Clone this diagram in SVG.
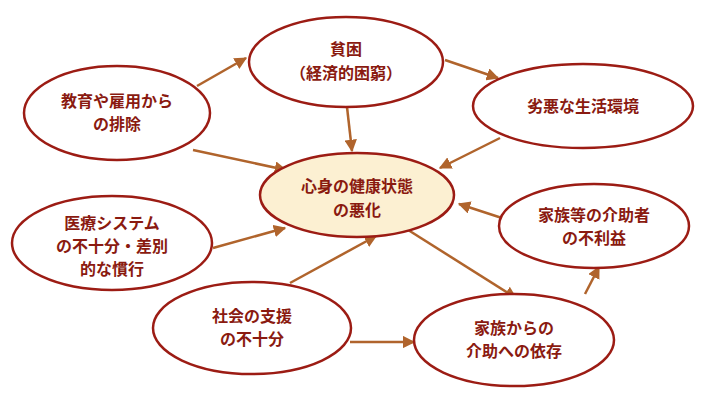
<svg xmlns="http://www.w3.org/2000/svg" width="720" height="406" viewBox="0 0 720 406">
<style>
.n{fill:#fff;stroke:#9c1c14;stroke-width:2.5}
.c{fill:#fcf0d2}
text{font-family:"Noto Sans CJK JP","Noto Sans CJK SC",sans-serif;font-size:16px;font-weight:bold;fill:#8a1a10;text-anchor:middle}
.e line{stroke:#b0642c;stroke-width:2.5;marker-end:url(#a)}
</style>
<defs><marker id="a" viewBox="0 0 10 10" refX="9" refY="5" markerWidth="5" markerHeight="5" orient="auto" markerUnits="strokeWidth"><path d="M0,0L10,5L0,10z" fill="#b0642c"/></marker></defs>
<rect width="720" height="406" fill="#fff"/>
<g class="e">
<line x1="197" y1="86" x2="246" y2="58"/>
<line x1="445" y1="60" x2="498" y2="78"/>
<line x1="347" y1="107" x2="352" y2="151"/>
<line x1="193" y1="150" x2="286" y2="170"/>
<line x1="500" y1="138" x2="440" y2="168"/>
<line x1="213" y1="248" x2="285" y2="228"/>
<line x1="290" y1="283" x2="376" y2="236"/>
<line x1="405" y1="228" x2="516" y2="298"/>
<line x1="505" y1="219" x2="459" y2="204"/>
<line x1="350" y1="342" x2="414" y2="342"/>
<line x1="585" y1="294" x2="599" y2="267"/>
</g>
<g id="n1"><ellipse class="n" cx="346" cy="62" rx="97" ry="45"/><text x="346" y="55">貧困</text><text x="346" y="79">（経済的困窮）</text></g>
<g id="n2"><ellipse class="n" cx="583" cy="106" rx="110" ry="42"/><text x="583" y="112">劣悪な生活環境</text></g>
<g id="n3"><ellipse class="n" cx="117" cy="113" rx="93" ry="47"/><text x="117" y="107">教育や雇用から</text><text x="117" y="130">の排除</text></g>
<g id="n4"><ellipse class="n c" cx="357" cy="195" rx="97" ry="42"/><text x="357" y="192">心身の健康状態</text><text x="357" y="216">の悪化</text></g>
<g id="n5"><ellipse class="n" cx="112" cy="243" rx="100" ry="47"/><text x="112" y="229">医療システム</text><text x="112" y="252">の不十分・差別</text><text x="112" y="275">的な慣行</text></g>
<g id="n6"><ellipse class="n" cx="594" cy="226" rx="95" ry="42"/><text x="594" y="221">家族等の介助者</text><text x="594" y="244">の不利益</text></g>
<g id="n7"><ellipse class="n" cx="252" cy="328" rx="99" ry="46"/><text x="252" y="322">社会の支援</text><text x="252" y="345">の不十分</text></g>
<g id="n8"><ellipse class="n" cx="514" cy="340" rx="100" ry="46"/><text x="514" y="334">家族からの</text><text x="514" y="357">介助への依存</text></g>
</svg>
